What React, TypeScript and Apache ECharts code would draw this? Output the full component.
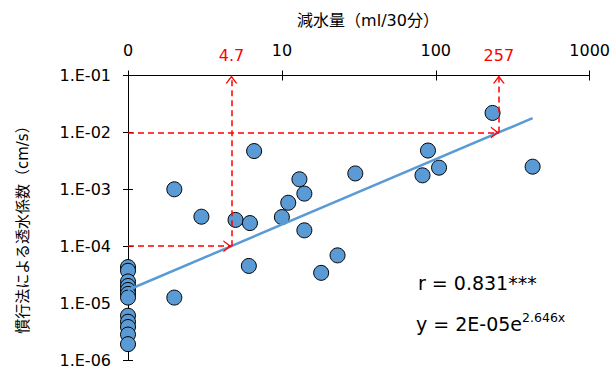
import React, { useEffect, useRef } from "react";
import * as echarts from "echarts";

// 減水量 (ml/30分): 0 is plotted at the axis origin (labelled "0")
const reduction = [
  0, 0, 0, 0, 0, 0, 0, 0, 0, 0, 0, 0,
  2.0, 3.0, 5.0, 6.2, 6.6, 6.1, 2.0, 10, 11, 13, 14, 14, 18, 23, 30,
  234, 89, 82, 105, 426,
];
// 慣行法による透水係数 (cm/s)
const permeability = [
  4.3e-5, 3.7e-5, 2.4e-5, 2.0e-5, 1.7e-5, 1.45e-5, 1.25e-5, 6.0e-6, 4.7e-6, 3.8e-6, 2.8e-6, 1.9e-6,
  1.0e-3, 3.3e-4, 2.9e-4, 2.55e-4, 4.7e-3, 4.5e-5, 1.25e-5, 3.25e-4, 5.8e-4, 1.5e-3, 8.4e-4, 1.9e-4,
  3.4e-5, 6.9e-5, 1.9e-3, 2.2e-2, 4.8e-3, 1.76e-3, 2.4e-3, 2.5e-3,
];
const xTickValues = [1, 10, 100, 1000];
const xTickLabels = ["0", "10", "100", "1000"];
const yMin = 1e-6;
const yMax = 1e-1;
// fitted trend y = a * e^(b * log10(x))
const FIT_A = 1.7e-5;
const FIT_B = 2.646;
// guide arrows
const guideX = [4.7, 257];
const guideY = [1e-4, 1e-2];
const guideLabels = ["4.7", "257"];
const rText = "r = 0.831***";
const eqMain = "y = 2E-05e";
const eqSup = "2.646x";
const xTitle = "減水量（ml/30分）";
const yTitle = "慣行法による透水係数（cm/s）";

const FONT = "'DejaVu Sans', 'Noto Sans CJK JP', sans-serif";
const BLUE = "#5B9BD5";
const RED = "#FF0000";
const CHEVRON = "path://M6,-8 M0,8 L6,0 L12,8 L10.4,8 L6,2.2 L1.6,8 Z";

export default function App() {
  const ref = useRef<HTMLDivElement>(null);
  useEffect(() => {
    if (!ref.current) return;
    document.body.style.margin = "0";
    const chart = echarts.init(ref.current, null, { renderer: "svg" });
    const pts = reduction.map((r, i) => [r === 0 ? xTickValues[0] : r, permeability[i]]);
    const xMaxData = Math.max(...reduction);
    const fit = (x: number) => FIT_A * Math.exp(FIT_B * Math.log10(x));
    const trend = [
      [xTickValues[0], fit(xTickValues[0])],
      [xMaxData, fit(xMaxData)],
    ];
    const xLabelFmt = (v: number) => {
      const i = xTickValues.findIndex((t) => Math.abs(t - v) / t < 1e-6);
      return i >= 0 ? xTickLabels[i] : "";
    };
    const yLabelFmt = (v: number) => {
      const e = Math.round(Math.log10(v));
      return "1.E-" + String(-e).padStart(2, "0");
    };
    const baseX = {
      type: "log" as const,
      logBase: 10,
      min: xTickValues[0],
      max: xTickValues[xTickValues.length - 1],
      position: "top" as const,
      splitLine: { show: false },
      minorTick: { show: false },
    };
    const baseY = {
      type: "log" as const,
      logBase: 10,
      min: yMin,
      max: yMax,
      position: "left" as const,
      splitLine: { show: false },
      minorTick: { show: false },
    };
    const guideLines: any[] = [];
    guideX.forEach((gx, i) => {
      const gy = guideY[i];
      guideLines.push([{ coord: [xTickValues[0], gy] }, { coord: [gx, gy] }]);
      guideLines.push([
        {
          coord: [gx, gy],
          label: {
            show: true,
            position: "end",
            formatter: guideLabels[i],
            color: RED,
            fontSize: 16,
            fontFamily: FONT,
            distance: 12,
          },
        },
        { coord: [gx, yMax] },
      ]);
    });
    chart.setOption({
      animation: false,
      grid: { left: 128, right: 22, top: 75.5, bottom: 10, containLabel: false },
      xAxis: [
        {
          ...baseX,
          axisLine: { show: true, onZero: false, lineStyle: { color: "#000", width: 1 } },
          axisTick: { show: true, inside: false, length: 5, lineStyle: { color: "#000" } },
          axisLabel: { formatter: xLabelFmt, fontSize: 16, color: "#000", margin: 17, fontFamily: FONT },
        },
        {
          ...baseX,
          axisLine: { show: false, onZero: false },
          axisTick: { show: true, inside: true, length: 5, lineStyle: { color: "#000" } },
          axisLabel: { show: false },
        },
      ],
      yAxis: [
        {
          ...baseY,
          axisLine: { show: true, onZero: false, lineStyle: { color: "#000", width: 1 } },
          axisTick: { show: true, inside: false, length: 5, lineStyle: { color: "#000" } },
          axisLabel: { formatter: yLabelFmt, fontSize: 16, color: "#000", margin: 17, fontFamily: FONT },
        },
        {
          ...baseY,
          axisLine: { show: false, onZero: false },
          axisTick: { show: true, inside: true, length: 5, lineStyle: { color: "#000" } },
          axisLabel: { show: false },
        },
      ],
      series: [
        {
          type: "scatter",
          xAxisIndex: 0,
          yAxisIndex: 0,
          data: pts,
          symbol: "circle",
          symbolSize: 15,
          itemStyle: { color: BLUE, borderColor: "#000", borderWidth: 1, opacity: 1 },
          z: 2,
        },
        {
          type: "line",
          xAxisIndex: 0,
          yAxisIndex: 0,
          data: trend,
          showSymbol: false,
          symbol: "none",
          lineStyle: { color: BLUE, width: 2.5 },
          z: 3,
        },
        {
          type: "line",
          xAxisIndex: 0,
          yAxisIndex: 0,
          data: [],
          z: 4,
          markLine: {
            silent: true,
            animation: false,
            symbol: ["none", CHEVRON],
            symbolSize: [12, 16],
            lineStyle: { color: RED, type: [6, 4], width: 1.5 },
            label: { show: false },
            emphasis: { disabled: true },
            data: guideLines,
          },
        },
      ],
      graphic: [
        {
          type: "text",
          x: 368,
          y: 20,
          style: { text: xTitle, align: "center", verticalAlign: "middle", fontSize: 16, fill: "#000", fontFamily: FONT },
        },
        {
          type: "text",
          x: 23,
          y: 226,
          rotation: Math.PI / 2,
          style: { text: yTitle, align: "center", verticalAlign: "middle", fontSize: 15, fill: "#000", fontFamily: FONT },
        },
        {
          type: "text",
          x: 418,
          y: 283,
          style: { text: rText, align: "left", verticalAlign: "middle", fontSize: 19, fill: "#000", fontFamily: FONT },
        },
        {
          type: "text",
          x: 416,
          y: 322,
          style: {
            text: "{m|" + eqMain + "}{s|" + eqSup + "}",
            align: "left",
            verticalAlign: "middle",
            fill: "#000",
            fontFamily: FONT,
            rich: {
              m: { fontSize: 19, fontFamily: FONT, fill: "#000", verticalAlign: "bottom", lineHeight: 22 },
              s: { fontSize: 12.5, fontFamily: FONT, fill: "#000", verticalAlign: "top", lineHeight: 14 },
            },
          },
        },
      ],
    });
    return () => chart.dispose();
  }, []);
  return <div ref={ref} style={{ width: 613, height: 370 }} />;
}
